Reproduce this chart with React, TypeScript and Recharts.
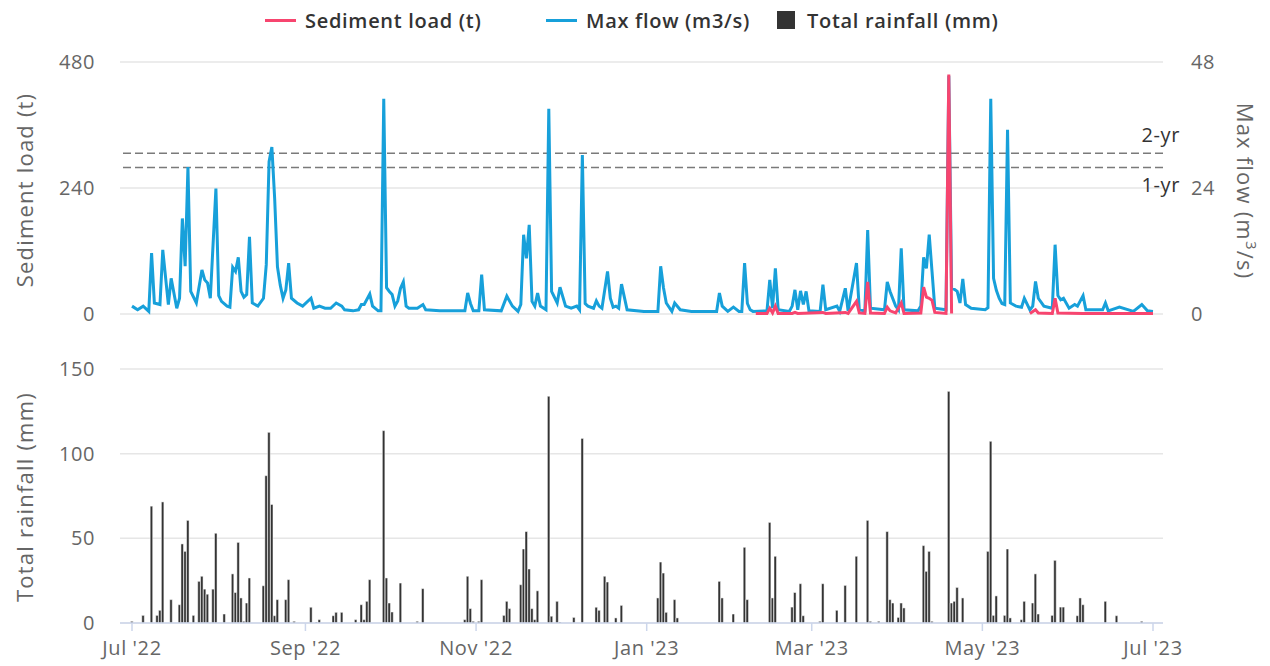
import React from 'react';
import { LineChart, Line, BarChart, Bar, XAxis, YAxis, CartesianGrid, ReferenceLine } from 'recharts';

// days counted from 1 Jul 2022
const monthTicks = [0, 62, 123, 184, 243, 304, 365];
const monthLabels = ["Jul '22", "Sep '22", "Nov '22", "Jan '23", "Mar '23", "May '23", "Jul '23"];

const flowDays = [
  0, 2, 4, 6, 7, 8, 10, 11, 13, 14, 16, 17, 18, 19, 20, 21, 23, 25, 26, 27, 28, 30, 31, 32, 34, 35, 36, 37, 38, 39,
  40, 41, 42, 43, 45, 47, 48, 49, 50, 51, 52, 53, 54, 55, 56, 57, 59, 61, 64, 65, 67, 69, 71, 73, 75, 76, 79, 81, 82, 83,
  85, 86, 88, 89, 90, 91, 92, 93, 94, 95, 96, 97, 98, 99, 102, 104, 105, 110, 115, 119, 120, 121, 122, 124, 125, 126, 132, 134, 136, 138,
  139, 140, 141, 142, 143, 144, 145, 146, 148, 149, 150, 152, 153, 155, 157, 159, 160, 161, 162, 163, 165, 166, 167, 168, 170, 171, 172, 173, 174, 175,
  177, 183, 188, 189, 190, 191, 193, 194, 196, 200, 205, 209, 210, 211, 213, 215, 217, 218, 219, 220, 221, 222, 227, 228, 229, 230, 231, 235, 236, 237,
  238, 239, 240, 241, 242, 246, 247, 248, 252, 253, 255, 256, 259, 260, 262, 263, 264, 269, 270, 271, 273, 274, 275, 276, 281, 282, 283, 284, 285, 286,
  287, 291, 292, 293, 294, 295, 296, 297, 298, 300, 305, 306, 307, 308, 309, 310, 311, 312, 313, 314, 316, 318, 319, 321, 322, 323, 324, 326, 329, 330,
  331, 332, 333, 335, 337, 338, 340, 341, 347, 348, 349, 353, 358, 361, 363, 365,
];
const flowValues = [
  1.5, 0.8, 1.5, 0.5, 11.6, 2.1, 1.8, 12.2, 1.8, 6.8, 1.1, 3.0, 18.2, 9.1, 28.0, 4.3, 2.1, 8.4, 6.5, 5.9, 3.0, 23.9, 3.5, 2.4, 1.5, 1.3, 8.9, 8.1, 10.8, 4.3,
  3.2, 3.7, 14.7, 2.1, 1.5, 3.0, 9.4, 29.0, 31.8, 22.0, 9.0, 5.5, 3.0, 4.6, 9.7, 3.0, 2.1, 1.5, 3.0, 1.1, 1.5, 1.1, 1.1, 2.1, 1.5, 0.8, 0.6, 0.8, 1.8, 1.8,
  3.8, 1.5, 0.6, 0.6, 41.0, 5.0, 4.3, 3.7, 1.5, 2.5, 4.9, 6.1, 1.5, 1.1, 1.1, 1.8, 0.8, 0.6, 0.6, 0.6, 4.0, 2.0, 0.6, 0.6, 7.5, 0.8, 0.6, 3.4, 1.5, 0.5,
  1.8, 15.1, 10.6, 17.0, 2.4, 1.5, 4.0, 1.5, 0.8, 39.1, 4.3, 2.1, 5.1, 1.5, 1.1, 1.5, 0.8, 30.3, 2.0, 1.5, 1.1, 2.5, 1.5, 1.1, 8.1, 3.0, 1.3, 1.5, 1.1, 5.7,
  0.8, 0.5, 0.5, 9.1, 5.0, 2.1, 0.5, 2.1, 0.8, 0.5, 0.5, 0.5, 4.0, 1.5, 0.5, 1.3, 0.5, 0.5, 9.7, 2.0, 0.8, 0.5, 0.6, 6.5, 1.1, 8.7, 0.8, 0.5, 1.5, 4.6,
  0.8, 4.4, 1.8, 4.3, 0.6, 0.5, 5.6, 0.8, 1.5, 0.5, 4.9, 0.6, 9.7, 0.8, 0.6, 16.0, 1.1, 0.8, 6.1, 4.3, 1.5, 0.8, 12.5, 0.8, 0.6, 1.5, 10.8, 8.7, 15.1, 8.1,
  1.1, 0.8, 45.4, 4.9, 4.7, 4.3, 2.1, 6.7, 1.8, 1.1, 0.8, 1.2, 41.0, 6.8, 4.5, 3.0, 2.0, 1.8, 35.1, 2.1, 1.5, 1.3, 3.0, 0.8, 1.5, 6.2, 3.0, 1.5, 1.1, 13.2,
  3.5, 2.7, 3.0, 1.1, 1.8, 1.5, 3.5, 0.8, 0.8, 2.1, 0.6, 1.3, 0.5, 1.8, 0.6, 0.5,
];

// sediment is only recorded from late February; null = no record
const sedimentDays = [
  223, 227, 228, 229, 230, 231, 236, 237, 238, 247, 248, 255, 256, 259, 260, 262, 263, 264, 269, 270, 271, 273, 275, 276, 282, 283, 284, 285, 286, 287,
  291, 292, 293, 300, 321, 323, 324, 329, 330, 331, 340, 350, 365,
];
const sedimentValues = [
  1, 1, 11, 2, 15, 1, 1, 3, 1, 3, 1, 3, 1, 24, 2, 1, 61, 2, 1, 13, 6, 2, 21, 1, 2, 51, 32, 30, 26, 3,
  1, 456, 1, null, 1, 8, 2, 1, 30, 2, 1, 1, 1,
];

const rainDays = [
  0, 4, 7, 9, 10, 11, 14, 17, 18, 19, 20, 22, 24, 25, 26, 27, 29, 30, 33, 36, 37, 38, 39, 40, 41, 42, 47, 48, 49, 50,
  51, 52, 55, 56, 58, 64, 66, 67, 72, 73, 75, 80, 82, 83, 84, 85, 90, 91, 92, 93, 96, 102, 104, 119, 120, 121, 122, 124, 125, 133,
  134, 135, 139, 140, 141, 142, 143, 144, 145, 149, 150, 152, 153, 158, 161, 166, 167, 169, 170, 173, 175, 188, 189, 190, 191, 194, 195, 210, 211, 215,
  219, 220, 228, 229, 230, 236, 237, 239, 240, 246, 247, 252, 255, 259, 263, 264, 267, 270, 271, 272, 274, 275, 276, 283, 284, 285, 286, 292, 293, 294,
  295, 297, 306, 307, 308, 309, 312, 313, 314, 318, 319, 322, 323, 324, 329, 330, 332, 333, 338, 339, 340, 348, 352, 361,
];
const rainValues = [
  1, 4.5, 69, 4.5, 7.5, 71.5, 13.8, 10.8, 46.7, 42.3, 60.6, 4.5, 24.6, 27.6, 20, 17, 20, 53, 5.3, 29, 18, 47.6, 14.8, 1, 11.8, 26.6, 22, 87, 112.6, 70,
  4.3, 13.8, 13.8, 25.6, 1, 9.3, 0.6, 2, 4.3, 6.3, 6.3, 2, 10.8, 2, 12.8, 25.6, 113.6, 26.6, 11.8, 6.5, 23.6, 1, 20.3, 2, 27.6, 8.5, 1, 1, 25.6, 4.5,
  12.8, 8.5, 22.6, 43.7, 54, 31.9, 8.5, 2, 19, 133.9, 4, 12.8, 0.6, 3.3, 109, 9.3, 7.5, 27.6, 24.2, 3, 10.4, 14.8, 36, 29.5, 6.3, 13.8, 3, 24.6, 14.8, 5.3,
  44.7, 13.8, 59.4, 14.8, 39.4, 9.4, 18, 23.2, 4.3, 1, 23.2, 7.5, 22.2, 39.4, 60.6, 1, 1, 54, 13.8, 11.8, 3.3, 11.8, 8.9, 45.7, 30.5, 42.3, 1, 136.8, 11.8, 12.8,
  21, 14.8, 42.3, 107.3, 4.5, 16, 4.5, 43.7, 3, 2, 12.8, 11.8, 29, 5.3, 4.5, 37, 9.4, 9.4, 4.3, 14.8, 10.8, 12.8, 4.3, 1,
];

const returnLabels = ['2-yr', '1-yr'];
const returnFlows = [30.6, 27.9];

const flowData = flowDays.map((day, i) => ({ day, flow: flowValues[i] }));
const sedimentData = sedimentDays.map((day, i) => ({ day, sediment: sedimentValues[i] }));
const rainData = rainDays.map((day, i) => ({ day, rain: rainValues[i] }));

const FONT = '"Open Sans", sans-serif';
const BLUE = '#17a0da';
const PINK = '#f7456f';
const GRID = '#e6e6e6';
const AXIS = '#ccd6eb';
const tickStyle = { fontSize: 20, fill: '#666', fontFamily: FONT, letterSpacing: 0.6 };

const CHART_W = 1270;
const PLOT_LEFT = 120;
const PLOT_RIGHT_GAP = 107;

function returnPeriodLabel(text: string, above: boolean) {
  return (props: any) => {
    const vb = props.viewBox || {};
    return (
      <text
        x={vb.x + vb.width + 17}
        y={above ? vb.y - 11 : vb.y + 24}
        textAnchor="end"
        fontSize={20}
        letterSpacing={0.6}
        fill="#333"
        fontFamily={FONT}
      >
        {text}
      </text>
    );
  };
}

function LegendItem({ left, kind, color, text }: { left: number; kind: 'line' | 'square'; color: string; text: string }) {
  return (
    <div style={{ position: 'absolute', left, top: 5, height: 30, display: 'flex', alignItems: 'center' }}>
      {kind === 'line' ? (
        <div style={{ width: 31, height: 3, background: color, marginRight: 9 }} />
      ) : (
        <div style={{ width: 18, height: 18, background: color, marginRight: 12 }} />
      )}
      <span style={{ fontSize: 20, fontWeight: 600, color: '#333', whiteSpace: 'nowrap', letterSpacing: 0.7 }}>{text}</span>
    </div>
  );
}

function AxisTitle({ cx, cy, angle, children }: { cx: number; cy: number; angle: number; children: React.ReactNode }) {
  return (
    <div
      style={{
        position: 'absolute',
        left: cx,
        top: cy,
        transform: `translate(-50%, -50%) rotate(${angle}deg)`,
        fontSize: 22,
        letterSpacing: 1.2,
        color: '#666',
        whiteSpace: 'nowrap',
        lineHeight: 1,
      }}
    >
      {children}
    </div>
  );
}

export default function App() {
  return (
    <div style={{ position: 'absolute', left: 0, top: 0, width: CHART_W, height: 666, background: '#fff', fontFamily: FONT }}>
      <LegendItem left={265} kind="line" color={PINK} text="Sediment load (t)" />
      <LegendItem left={546} kind="line" color={BLUE} text="Max flow (m3/s)" />
      <LegendItem left={777} kind="square" color="#333" text="Total rainfall (mm)" />

      <AxisTitle cx={24} cy={190} angle={-90}>Sediment load (t)</AxisTitle>
      <AxisTitle cx={24} cy={497} angle={-90}>Total rainfall (mm)</AxisTitle>
      <AxisTitle cx={1247} cy={191} angle={90}>
        Max flow (m<sup style={{ fontSize: 15 }}>3</sup>/s)
      </AxisTitle>

      {/* flow and sediment */}
      <div style={{ position: 'absolute', left: 0, top: 40 }}>
        <LineChart width={CHART_W} height={290} margin={{ top: 22, right: 0, bottom: 16, left: 0 }}>
          <CartesianGrid yAxisId="sed" vertical={false} stroke={GRID} strokeWidth={1.5} />
          <XAxis dataKey="day" type="number" domain={[0, 365]} padding={{ left: 12, right: 10 }} hide />
          <YAxis
            yAxisId="sed"
            orientation="left"
            width={PLOT_LEFT}
            domain={[0, 480]}
            ticks={[0, 240, 480]}
            axisLine={false}
            tickLine={false}
            tickMargin={19}
            tick={tickStyle}
          />
          <YAxis
            yAxisId="flow"
            orientation="right"
            width={PLOT_RIGHT_GAP}
            domain={[0, 48]}
            ticks={[0, 24, 48]}
            axisLine={false}
            tickLine={false}
            tickMargin={22}
            tick={tickStyle}
          />
          {returnFlows.map((f, i) => (
            <ReferenceLine
              key={returnLabels[i]}
              yAxisId="flow"
              y={f}
              stroke="#7a7a7a"
              strokeWidth={1.5}
              strokeDasharray="8 4"
              label={returnPeriodLabel(returnLabels[i], i === 0)}
            />
          ))}
          <Line
            yAxisId="flow"
            data={flowData}
            dataKey="flow"
            type="linear"
            stroke={BLUE}
            strokeWidth={3}
            dot={false}
            isAnimationActive={false}
          />
          <Line
            yAxisId="sed"
            data={sedimentData}
            dataKey="sediment"
            type="linear"
            stroke={PINK}
            strokeWidth={3}
            dot={false}
            connectNulls={false}
            isAnimationActive={false}
          />
        </LineChart>
      </div>

      {/* rainfall */}
      <div style={{ position: 'absolute', left: 0, top: 340 }}>
        <BarChart width={CHART_W} height={326} data={rainData} margin={{ top: 29, right: PLOT_RIGHT_GAP, bottom: 0, left: 0 }}>
          <CartesianGrid vertical={false} stroke={GRID} strokeWidth={1.5} />
          <XAxis
            dataKey="day"
            type="number"
            domain={[0, 365]}
            ticks={monthTicks}
            tickFormatter={(v: number) => monthLabels[monthTicks.indexOf(v)]}
            padding={{ left: 12, right: 10 }}
            height={43}
            stroke={AXIS}
            axisLine={{ stroke: AXIS, strokeWidth: 1.5 }}
            tickLine={{ stroke: AXIS, strokeWidth: 1.5 }}
            tickSize={8}
            tickMargin={10}
            tick={tickStyle}
            interval={0}
          />
          <YAxis
            width={PLOT_LEFT}
            domain={[0, 150]}
            ticks={[0, 50, 100, 150]}
            axisLine={false}
            tickLine={false}
            tickMargin={19}
            tick={tickStyle}
          />
          <Bar dataKey="rain" fill="#333" barSize={3} stroke="#fff" strokeWidth={0.5} isAnimationActive={false} />
        </BarChart>
      </div>
    </div>
  );
}
